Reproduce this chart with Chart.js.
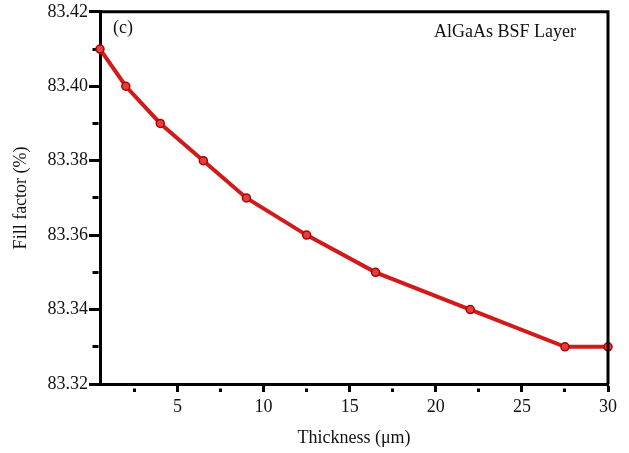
<!DOCTYPE html>
<html>
<head>
<meta charset="utf-8">
<script src="https://cdn.jsdelivr.net/npm/chart.js@4.4.1/dist/chart.umd.min.js"></script>
<style>
  html, body { margin: 0; padding: 0; background: #fff; }
  #wrap { width: 629px; height: 453px; }
</style>
</head>
<body>
<div id="wrap"><canvas id="chart" width="629" height="453"></canvas></div>
<script>
// thickness (um) vs fill factor (%)
const thickness = [0.5, 2, 4, 6.5, 9, 12.5, 16.5, 22, 27.5, 30];
const fillFactor = [83.41, 83.40, 83.39, 83.38, 83.37, 83.36, 83.35, 83.34, 83.33, 83.33];
const xTicks = [2.5, 5, 7.5, 10, 12.5, 15, 17.5, 20, 22.5, 25, 27.5, 30];
const yTicks = [83.32, 83.33, 83.34, 83.35, 83.36, 83.37, 83.38, 83.39, 83.40, 83.41, 83.42];

const serif = "'Liberation Serif', 'Times New Roman', serif";
const red = "#d11a1a";

const isMajorX = v => v % 5 === 0;
const isMajorY = v => Math.round(v * 100) % 2 === 0;

// frame on top/right + text labels inside the plot
const framePlugin = {
  id: "frame",
  afterDraw(chart) {
    const { ctx, chartArea: a } = chart;
    ctx.save();
    ctx.strokeStyle = "#000";
    ctx.lineWidth = 3;
    ctx.beginPath();
    ctx.moveTo(a.left, a.top);
    ctx.lineTo(a.right, a.top);
    ctx.lineTo(a.right, a.bottom);
    ctx.stroke();
    ctx.fillStyle = "#111";
    ctx.font = "18px " + serif;
    ctx.textBaseline = "middle";
    ctx.textAlign = "left";
    ctx.fillText("(c)", 113, 28);
    ctx.textAlign = "right";
    ctx.fillText("AlGaAs BSF Layer", 576, 32);
    ctx.restore();
  }
};

new Chart(document.getElementById("chart"), {
  type: "line",
  data: {
    datasets: [{
      data: thickness.map((x, i) => ({ x: x, y: fillFactor[i] })),
      borderColor: red,
      borderWidth: 4,
      tension: 0,
      pointRadius: 4,
      pointBackgroundColor: "#e04040",
      pointBorderColor: "#b00000",
      pointBorderWidth: 1.5,
      clip: false
    }]
  },
  options: {
    responsive: false,
    animation: false,
    layout: { padding: { top: 7, right: 21, left: 0, bottom: 0 } },
    plugins: { legend: { display: false }, tooltip: { enabled: false } },
    scales: {
      x: {
        type: "linear",
        min: 0.5,
        max: 30,
        afterBuildTicks: s => { s.ticks = xTicks.map(v => ({ value: v })); },
        afterFit: s => { s.height = 69; },
        border: { color: "#000", width: 3 },
        grid: {
          drawOnChartArea: false,
          color: "#000",
          tickColor: "#000",
          tickWidth: 3,
          tickLength: 8,
          // minor ticks: shorter stub next to the axis
          tickBorderDash: c => isMajorX(c.tick.value) ? [] : [0, 2.5, 4, 100]
        },
        ticks: {
          color: "#111",
          font: { family: serif, size: 18 },
          padding: 4,
          maxRotation: 0,
          autoSkip: false,
          callback: v => isMajorX(v) ? String(v) : ""
        },
        title: {
          display: true,
          text: "Thickness (μm)",
          color: "#111",
          font: { family: serif, size: 18 },
          padding: { top: 6 }
        }
      },
      y: {
        min: 83.32,
        max: 83.42,
        afterBuildTicks: s => { s.ticks = yTicks.map(v => ({ value: v })); },
        afterFit: s => { s.width = 100; },
        border: { color: "#000", width: 3 },
        grid: {
          drawOnChartArea: false,
          color: "#000",
          tickColor: "#000",
          tickWidth: 3,
          tickLength: 11,
          tickBorderDash: c => isMajorY(c.tick.value) ? [] : [0, 3.5, 6, 100]
        },
        ticks: {
          color: "#111",
          font: { family: serif, size: 18 },
          padding: 1,
          autoSkip: false,
          callback: v => isMajorY(v) ? v.toFixed(2) : ""
        },
        title: {
          display: true,
          text: "Fill factor (%)",
          color: "#111",
          font: { family: serif, size: 18 },
          padding: { top: 10, bottom: 0 }
        }
      }
    }
  },
  plugins: [framePlugin]
});
</script>
</body>
</html>
